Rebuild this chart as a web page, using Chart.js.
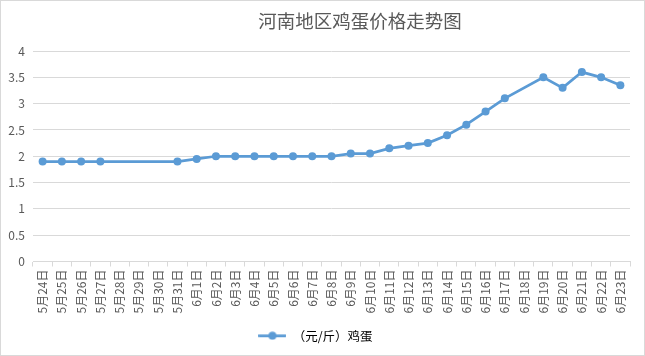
<!DOCTYPE html>
<html>
<head>
<meta charset="utf-8">
<script src="https://cdn.jsdelivr.net/npm/chart.js@4/dist/chart.umd.min.js"></script>
<style>
  html, body { margin: 0; padding: 0; background: #fff; }
  #wrap { width: 645px; height: 356px; box-sizing: border-box; border: 1px solid #d9d9d9; position: relative; }
  #wrap canvas { display: block; }
</style>
</head>
<body>
<div id="wrap"><canvas id="c" width="643" height="354"></canvas></div>
<script>
const chartTitle = '河南地区鸡蛋价格走势图';
const seriesName = '（元/斤）鸡蛋';
const categories = ['5月24日','5月25日','5月26日','5月27日','5月28日','5月29日','5月30日','5月31日',
  '6月1日','6月2日','6月3日','6月4日','6月5日','6月6日','6月7日','6月8日','6月9日','6月10日',
  '6月11日','6月12日','6月13日','6月14日','6月15日','6月16日','6月17日','6月18日','6月19日',
  '6月20日','6月21日','6月22日','6月23日'];
const eggPrices = [1.9,1.9,1.9,1.9,null,null,null,1.9,
  1.95,2.0,2.0,2.0,2.0,2.0,2.0,2.0,2.05,2.05,
  2.15,2.2,2.25,2.4,2.6,2.85,3.1,null,3.5,
  3.3,3.6,3.5,3.35];
const yMin = 0, yMax = 4, yStep = 0.5;

const blue = '#5b9bd5';
const textColor = '#595959';
const gridColor = '#d9d9d9';
const fontFamily = '"Noto Sans CJK SC", "Microsoft YaHei", sans-serif';

// legend marker: line with dot
const marker = document.createElement('canvas');
marker.width = 28; marker.height = 9;
(function(){
  const g = marker.getContext('2d');
  g.strokeStyle = blue; g.lineWidth = 2.75; g.lineCap = 'round';
  g.beginPath(); g.moveTo(1, 4.5); g.lineTo(27, 4.5); g.stroke();
  g.fillStyle = blue; g.beginPath(); g.arc(14, 4.5, 4, 0, Math.PI * 2); g.fill();
})();

// Title drawn right of center, as in the reference
const titlePlugin = {
  id: 'offsetTitle',
  afterDraw(chart) {
    const ctx = chart.ctx;
    ctx.save();
    ctx.font = '18.5px ' + fontFamily;
    ctx.fillStyle = textColor;
    ctx.textAlign = 'center';
    ctx.textBaseline = 'middle';
    ctx.fillText(chartTitle, 359, 20);
    ctx.restore();
  }
};

new Chart(document.getElementById('c'), {
  type: 'line',
  data: {
    labels: categories,
    datasets: [{
      label: seriesName,
      data: eggPrices,
      borderColor: blue,
      backgroundColor: blue,
      borderWidth: 2.75,
      pointRadius: 4,
      pointBackgroundColor: blue,
      pointBorderColor: blue,
      pointBorderWidth: 0,
      spanGaps: true,
      tension: 0
    }]
  },
  plugins: [titlePlugin],
  options: {
    responsive: false,
    animation: false,
    layout: { padding: { left: 0, right: 14, top: 50, bottom: 3 } },
    plugins: {
      title: { display: false },
      legend: {
        position: 'bottom',
        labels: {
          color: textColor,
          font: { family: fontFamily, size: 12.5 },
          usePointStyle: true,
          pointStyleWidth: 28,
          boxHeight: 12,
          padding: 10,
          generateLabels: (chart) => chart.data.datasets.map((ds, i) => ({
            text: ds.label,
            pointStyle: marker,
            fillStyle: blue,
            strokeStyle: blue,
            lineWidth: 0,
            hidden: false,
            datasetIndex: i
          }))
        }
      },
      tooltip: { enabled: false }
    },
    scales: {
      x: {
        offset: true,
        grid: { display: true, drawOnChartArea: false, drawTicks: true, tickLength: 5, color: gridColor, offset: true },
        border: { display: true, color: gridColor, width: 1 },
        ticks: {
          autoSkip: false, maxRotation: 90, minRotation: 90,
          color: textColor, padding: 3,
          font: { family: fontFamily, size: 12 }
        },
        afterFit: (s) => { s.height = 58; }
      },
      y: {
        min: yMin, max: yMax,
        grid: { color: gridColor, drawTicks: false },
        border: { display: false },
        ticks: {
          stepSize: yStep, color: textColor, padding: 8,
          font: { family: fontFamily, size: 12 },
          callback: (v) => String(Math.round(v * 10) / 10)
        },
        afterFit: (s) => { s.width = 32; }
      }
    }
  }
});
</script>
</body>
</html>
